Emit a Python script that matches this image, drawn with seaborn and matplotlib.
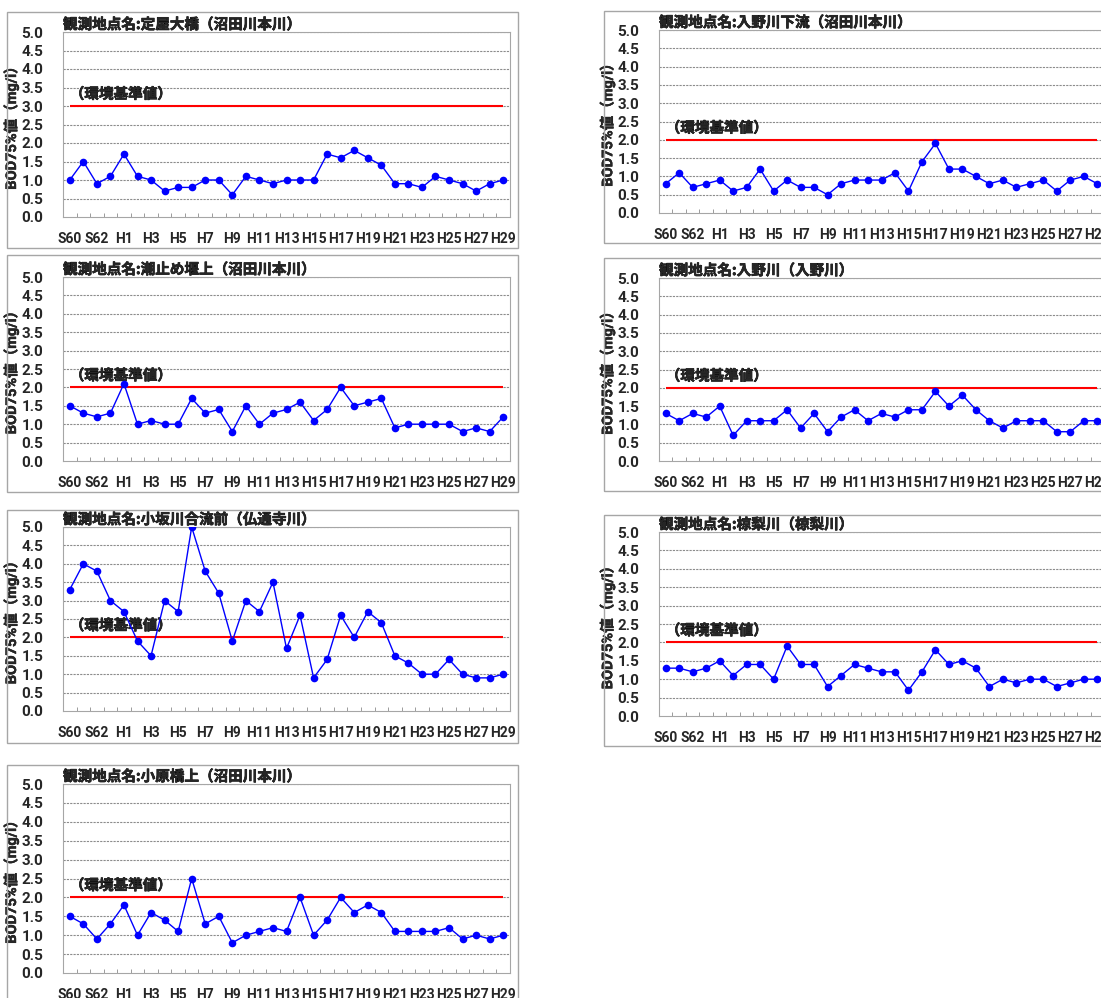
import matplotlib
matplotlib.use("Agg")
import matplotlib.pyplot as plt
import matplotlib.patheffects as pe
import seaborn as sns
import pandas as pd
import numpy as np
from matplotlib.patches import Rectangle
from matplotlib.ticker import FixedLocator

# ── data ─────────────────────────────────────────────────────────────────────
years = ["S60", "S61", "S62", "S63"] + [f"H{i}" for i in range(1, 30)]

sadaya = [1.0, 1.5, 0.9, 1.1, 1.7, 1.1, 1.0, 0.7, 0.8, 0.8, 1.0, 1.0, 0.6, 1.1, 1.0, 0.9, 1.0,
          1.0, 1.0, 1.7, 1.6, 1.8, 1.6, 1.4, 0.9, 0.9, 0.8, 1.1, 1.0, 0.9, 0.7, 0.9, 1.0]
irino_down = [0.8, 1.1, 0.7, 0.8, 0.9, 0.6, 0.7, 1.2, 0.6, 0.9, 0.7, 0.7, 0.5, 0.8, 0.9, 0.9, 0.9,
              1.1, 0.6, 1.4, 1.9, 1.2, 1.2, 1.0, 0.8, 0.9, 0.7, 0.8, 0.9, 0.6, 0.9, 1.0, 0.8]
shiodome = [1.5, 1.3, 1.2, 1.3, 2.1, 1.0, 1.1, 1.0, 1.0, 1.7, 1.3, 1.4, 0.8, 1.5, 1.0, 1.3, 1.4,
            1.6, 1.1, 1.4, 2.0, 1.5, 1.6, 1.7, 0.9, 1.0, 1.0, 1.0, 1.0, 0.8, 0.9, 0.8, 1.2]
irino = [1.3, 1.1, 1.3, 1.2, 1.5, 0.7, 1.1, 1.1, 1.1, 1.4, 0.9, 1.3, 0.8, 1.2, 1.4, 1.1, 1.3,
         1.2, 1.4, 1.4, 1.9, 1.5, 1.8, 1.4, 1.1, 0.9, 1.1, 1.1, 1.1, 0.8, 0.8, 1.1, 1.1]
kosaka = [3.3, 4.0, 3.8, 3.0, 2.7, 1.9, 1.5, 3.0, 2.7, 5.0, 3.8, 3.2, 1.9, 3.0, 2.7, 3.5, 1.7,
          2.6, 0.9, 1.4, 2.6, 2.0, 2.7, 2.4, 1.5, 1.3, 1.0, 1.0, 1.4, 1.0, 0.9, 0.9, 1.0]
mukunashi = [1.3, 1.3, 1.2, 1.3, 1.5, 1.1, 1.4, 1.4, 1.0, 1.9, 1.4, 1.4, 0.8, 1.1, 1.4, 1.3, 1.2,
             1.2, 0.7, 1.2, 1.8, 1.4, 1.5, 1.3, 0.8, 1.0, 0.9, 1.0, 1.0, 0.8, 0.9, 1.0, 1.0]
ohara = [1.5, 1.3, 0.9, 1.3, 1.8, 1.0, 1.6, 1.4, 1.1, 2.5, 1.3, 1.5, 0.8, 1.0, 1.1, 1.2, 1.1,
         2.0, 1.0, 1.4, 2.0, 1.6, 1.8, 1.6, 1.1, 1.1, 1.1, 1.1, 1.2, 0.9, 1.0, 0.9, 1.0]

titles = [
    "観測地点名:定屋大橋（沼田川本川）",
    "観測地点名:入野川下流（沼田川本川）",
    "観測地点名:潮止め堰上（沼田川本川）",
    "観測地点名:入野川（入野川）",
    "観測地点名:小坂川合流前（仏通寺川）",
    "観測地点名:椋梨川（椋梨川）",
    "観測地点名:小原橋上（沼田川本川）",
]
series = [sadaya, irino_down, shiodome, irino, kosaka, mukunashi, ohara]
standards = [3.0, 2.0, 2.0, 2.0, 2.0, 2.0, 2.0]

# ── layout (pixels: plot area left, top, right, bottom; frame left, top, right, bottom)
W, H = 1101, 998
plot_boxes = [
    (63, 32, 510, 217), (659, 30, 1104, 213),
    (63, 277, 510, 461), (659, 278, 1104, 461),
    (63, 527, 510, 711), (659, 532, 1104, 716),
    (63, 784, 510, 973),
]
frames = [
    (7, 12, 518, 248), (604, 11, 1110, 243),
    (7, 255, 518, 492), (604, 258, 1110, 491),
    (7, 510, 518, 743), (604, 515, 1110, 746),
    (7, 765, 518, 1010),
]

sns.set_theme(style="white")
plt.rcParams["font.family"] = ["Roboto", "Noto Sans CJK JP", "DejaVu Sans"]
plt.rcParams["font.weight"] = "bold"

fig = plt.figure(figsize=(W / 100, H / 100), dpi=100)
fig.patch.set_facecolor("white")

for (fl, ft, fr, fb) in frames:
    fig.patches.append(Rectangle((fl / W, 1 - fb / H), (fr - fl) / W, (fb - ft) / H,
                                 transform=fig.transFigure, fill=False,
                                 edgecolor="#A6A6A6", linewidth=1.0))

idx = np.arange(len(years))
cjk = ["Noto Sans CJK JP", "DejaVu Sans"]
heavy = [pe.withStroke(linewidth=0.45, foreground="black")]

for k, vals in enumerate(series):
    l, t, r, b = plot_boxes[k]
    ax = fig.add_axes([l / W, 1 - b / H, (r - l) / W, (b - t) / H])
    df = pd.DataFrame({"idx": idx, "val": vals})

    ax.set_xlim(-0.5, len(years) - 0.5)
    ax.set_ylim(0, 5)
    ax.set_yticks(np.arange(0, 5.01, 0.5))
    ax.set_yticklabels([f"{v:.1f}" for v in np.arange(0, 5.01, 0.5)])
    for y in np.arange(0.5, 5.01, 0.5):
        ax.axhline(y, color="#8C8C8C", lw=0.8, ls=(0, (2, 1)), zorder=0)

    ax.hlines(standards[k], 0, len(years) - 1, color="#FF0000", lw=1.5, zorder=2)
    ax.text(0, standards[k] + 0.12, "（環境基準値）", family=cjk, fontsize=10.5,
            fontweight="bold", ha="left", va="bottom", zorder=3, path_effects=heavy)

    sns.lineplot(data=df, x="idx", y="val", ax=ax, color="#0000FF", lw=1,
                 marker="o", markersize=5.5, markeredgewidth=0, zorder=4)

    ax.set_xticks(idx[::2])
    ax.set_xticklabels(years[::2])
    ax.xaxis.set_minor_locator(FixedLocator(np.arange(-0.5, len(years), 1.0)))
    ax.tick_params(axis="x", which="major", length=0, pad=11, labelsize=10)
    ax.tick_params(axis="x", which="minor", direction="in", length=3, width=0.6,
                   color="#8C8C8C", bottom=True)
    ax.tick_params(axis="y", length=0, pad=14, labelsize=11)
    for lab in ax.get_xticklabels() + ax.get_yticklabels():
        lab.set_fontweight("bold")

    ax.set_xlabel("")
    ax.set_ylabel("BOD75%値（mg/l）", family=["Roboto", "Noto Sans CJK JP"], fontsize=10.5,
                  fontweight="bold")
    ax.yaxis.label.set_path_effects([pe.withStroke(linewidth=0.3, foreground="black")])
    ax.yaxis.set_label_coords(-44 / 447, 0.5)

    for sp in ax.spines.values():
        sp.set_color("#A6A6A6")
        sp.set_linewidth(0.8)

    ax.text(0.0, 1.0, titles[k], transform=ax.transAxes, family=cjk, fontsize=10.5,
            fontweight="bold", ha="left", va="bottom", path_effects=heavy)

fig.savefig("out.png", dpi=100)
